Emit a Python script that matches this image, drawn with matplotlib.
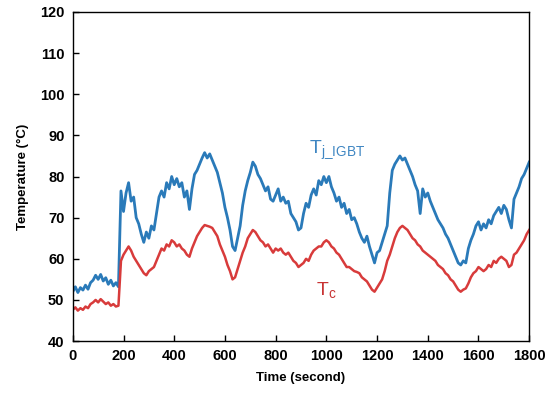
import matplotlib as mpl
mpl.use('Agg')
import matplotlib.pyplot as plt
import numpy as np

# time axis, one reading every 10 s
time_s = np.arange(0, 1801, 10)

t_j_igbt = [
    52.0, 53.2, 51.8, 53.0, 52.4, 53.6, 52.6, 54.2, 54.8, 56.0,
    55.0, 56.2, 54.6, 55.4, 53.8, 54.8, 53.4, 54.2, 53.2, 76.5,
    71.5, 76.0, 78.5, 74.0, 75.0, 70.0, 68.5, 66.0, 64.0, 66.5,
    65.0, 68.0, 67.0, 71.0, 75.0, 76.5, 75.0, 78.5, 77.0, 80.0,
    78.0, 79.5, 77.5, 78.5, 75.0, 76.5, 72.0, 77.0, 80.5, 81.5,
    83.0, 84.5, 85.8, 84.5, 85.5, 84.0, 82.5, 81.0, 78.5, 76.0,
    72.5, 70.0, 67.0, 63.0, 62.0, 65.0, 68.0, 73.0, 76.5, 79.0,
    81.0, 83.5, 82.5, 80.5, 79.5, 78.0, 76.5, 77.5, 74.5, 74.0,
    75.5, 77.0, 74.0, 75.0, 73.5, 74.0, 71.0, 70.0, 69.0, 67.0,
    67.5, 71.0, 73.5, 72.5, 75.5, 77.0, 75.5, 79.0, 78.0, 80.0,
    78.5, 80.0, 77.5, 76.0, 74.0, 75.0, 72.5, 73.5, 71.0, 72.0,
    69.5, 70.0, 68.5, 66.5, 65.0, 64.0, 65.5, 63.0, 61.0, 59.0,
    61.5, 62.0, 64.0, 66.0, 68.0, 76.0, 81.5, 83.0, 84.0, 85.0,
    84.0, 84.5, 83.0, 81.5, 80.0, 78.0, 76.5, 71.0, 77.0, 75.0,
    76.0, 74.0, 72.5, 71.0, 69.5, 68.5, 67.5, 66.0, 65.0, 63.5,
    62.0, 60.5, 59.0, 58.5, 59.5, 59.0, 62.5, 64.5, 66.0, 68.0,
    69.0, 67.0, 68.5, 67.5, 69.5, 68.5, 70.5, 71.5, 72.5, 71.0,
    73.0, 72.0, 69.5, 67.5, 74.5, 76.0, 77.5, 79.5, 80.5, 82.0,
    83.5,
]

t_c = [
    47.6, 48.2, 47.4, 48.0, 47.6, 48.4, 48.0, 49.0, 49.4, 50.0,
    49.4, 50.2, 49.6, 49.0, 49.4, 48.6, 49.0, 48.4, 48.6, 59.5,
    61.0, 62.0, 63.0, 62.0, 60.5, 59.5, 58.5, 57.5, 56.5, 56.0,
    57.0, 57.5, 58.0, 59.5, 61.0, 62.5, 62.0, 63.5, 63.0, 64.5,
    64.0, 63.0, 63.5, 62.5, 62.0, 61.0, 60.5, 62.5, 64.0, 65.5,
    66.5, 67.5, 68.2, 68.0, 67.8, 67.5, 66.5, 65.5, 63.5, 62.0,
    60.5, 58.5, 57.0, 55.0, 55.5, 57.5, 59.5, 61.5, 63.0, 65.0,
    66.0, 67.0, 66.5, 65.5, 64.5, 64.0, 63.0, 63.5, 62.5, 61.5,
    62.5, 62.0, 62.5, 61.5, 61.0, 61.5, 60.5, 59.5, 59.0, 58.0,
    58.5, 59.0, 60.0, 59.5, 61.0, 62.0, 62.5, 63.0, 63.0, 64.0,
    64.5, 64.0, 63.0, 62.5, 61.5, 61.0, 60.0, 59.0, 58.0, 58.0,
    57.5, 57.0, 56.8, 56.5, 55.5, 55.0, 54.5, 53.5, 52.5, 52.0,
    53.0, 54.0, 55.0, 57.0, 59.5, 61.0, 63.0, 65.0, 66.5, 67.5,
    68.0, 67.5, 67.0, 66.0, 65.0, 64.5, 63.5, 63.0, 62.0, 61.5,
    61.0, 60.5, 60.0, 59.5, 58.5, 58.0, 57.5, 56.5, 56.0, 55.0,
    54.5, 53.5, 52.5, 52.0, 52.5, 52.8, 54.0, 55.5, 56.5, 57.0,
    58.0, 57.5, 57.0, 57.5, 58.5, 58.0, 59.5, 59.0, 60.0, 60.5,
    60.0, 59.5, 58.0, 58.5, 61.0, 61.5, 62.5, 63.5, 64.5, 66.0,
    67.0,
]

x_ticks = list(range(0, 1801, 200))
y_ticks = list(range(40, 121, 10))

plt.rcParams['font.family'] = ['Liberation Sans', 'DejaVu Sans']
plt.rcParams['mathtext.default'] = 'regular'

fig = plt.figure(figsize=(5.6, 3.98), dpi=100)
ax = fig.add_axes([0.130, 0.143, 0.815, 0.827])

ax.plot(time_s, t_j_igbt, color='#2a7ab9', lw=2.0)
ax.plot(time_s, t_c, color='#d83b3b', lw=1.8)

ax.set_xlim(0, 1800)
ax.set_ylim(40, 120)
ax.set_xticks(x_ticks)
ax.set_yticks(y_ticks)
ax.tick_params(direction='in', length=4, width=1, labelsize=10.5, pad=6)
for lab in ax.get_xticklabels() + ax.get_yticklabels():
    lab.set_fontweight('bold')
for sp in ax.spines.values():
    sp.set_linewidth(1)

ax.set_xlabel('Time (second)', fontsize=9.5, fontweight='bold', labelpad=6)
ax.set_ylabel('Temperature (\u00b0C)', fontsize=9.5, fontweight='bold', labelpad=8)

ax.text(930, 86.4, r'T$_{j\_IGBT}$', color='#3f86c2', fontsize=14, va='center')
ax.text(960, 52.4, r'T$_{c}$', color='#c83434', fontsize=14, va='center')

plt.savefig('out.png', dpi=100)
